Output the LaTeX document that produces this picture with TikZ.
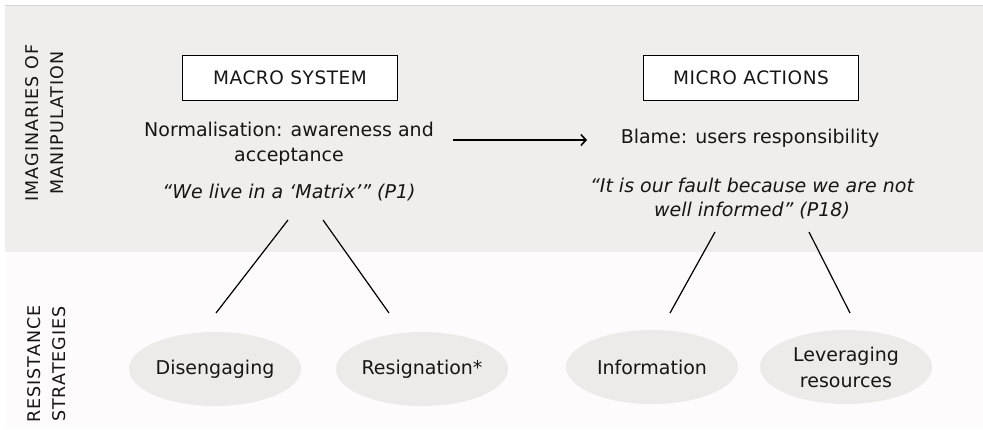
\documentclass[tikz,border=0pt]{standalone}
\usepackage{fontspec}
\setmainfont{DejaVu Sans}
\usetikzlibrary{shapes.geometric,arrows.meta}
\definecolor{bandtop}{RGB}{240,238,236}
\definecolor{bandlow}{RGB}{253,251,251}
\definecolor{rule}{RGB}{214,212,210}
\definecolor{pill}{RGB}{237,235,233}
\definecolor{ink}{RGB}{22,22,22}
\begin{document}
\begin{tikzpicture}[x=1pt,y=-1pt,
  txt/.style={text=ink, align=center, inner sep=0pt,
    font=\fontsize{19}{25}\selectfont},
  quote/.style={txt, font=\fontsize{19}{24}\selectfont\itshape},
  headbox/.style={draw=black, line width=1.4pt, fill=white, text=ink,
    minimum width=215pt, minimum height=45pt, inner sep=0pt,
    font=\fontsize{18.5}{22}\selectfont\addfontfeature{LetterSpace=3}},
  sidelabel/.style={rotate=90, align=center, text=ink, inner sep=0pt,
    font=\fontsize{17.5}{25}\selectfont\addfontfeature{LetterSpace=6}},
  strategy/.style={ellipse, fill=pill, text=ink, align=center,
    minimum width=172pt, minimum height=74pt, inner sep=0pt,
    font=\fontsize{19}{26}\selectfont},
  link/.style={draw=black, line width=1.2pt},
  flow/.style={draw=black, line width=1.6pt,
    -{Straight Barb[length=5pt,width=11pt,line width=1.6pt]}}]

  \useasboundingbox (0,0) rectangle (983,429);

  % two horizontal bands
  \fill[bandlow] (5,252) rectangle (983,429);
  \fill[bandtop] (5,5) rectangle (983,252);
  \draw[rule, line width=1pt] (5,5) -- (983,5);

  % band titles
  \node[sidelabel] (imag) at (45,123) {IMAGINARIES OF\\MANIPULATION};
  \node[sidelabel] (resist) at (47,364) {RESISTANCE\\STRATEGIES};

  % upper band: imaginaries
  \node[headbox] (macro) at (290,78) {MACRO SYSTEM};
  \node[headbox] (micro) at (751,78) {MICRO ACTIONS};

  \node[txt] (norm) at (289,144) {Normalisation: awareness and\\acceptance};
  \node[quote] (q1) at (289,193) {“We live in a ‘Matrix’” (P1)};

  \node[txt] (blame) at (750,138) {Blame: users responsibility};
  \node[quote] (q2) at (752,199) {“It is our fault because we are not\\well informed” (P18)};

  \coordinate (arrS) at (453,140);
  \coordinate (arrE) at (587,140);
  \draw[flow] (arrS) -- (arrE);

  % lower band: strategies
  \node[strategy] (dis) at (215,369) {Disengaging};
  \node[strategy] (res) at (422,369) {Resignation*};
  \node[strategy] (inf) at (652,367) {Information};
  \node[strategy] (lev) at (846,367) {Leveraging\\resources};

  % links from the quotes down to the strategies
  \coordinate (l1a) at (288,220); \coordinate (l1b) at (216,313);
  \coordinate (l2a) at (323,220); \coordinate (l2b) at (389,313);
  \coordinate (l3a) at (715,232); \coordinate (l3b) at (670,313);
  \coordinate (l4a) at (809,232); \coordinate (l4b) at (850,313);
  \draw[link] (l1a) -- (l1b);
  \draw[link] (l2a) -- (l2b);
  \draw[link] (l3a) -- (l3b);
  \draw[link] (l4a) -- (l4b);
\end{tikzpicture}
\end{document}
